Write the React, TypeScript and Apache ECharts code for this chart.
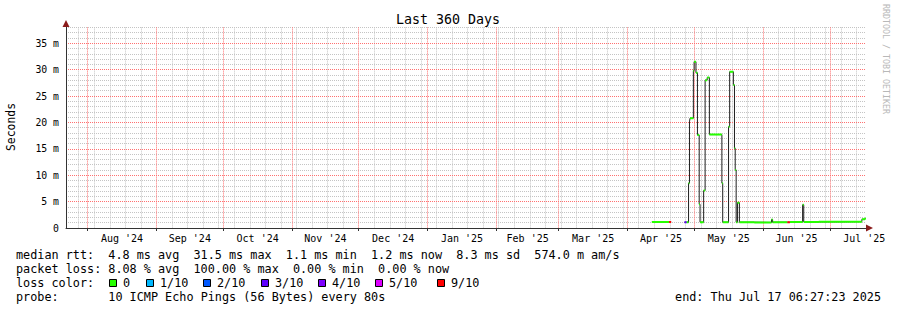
import React, { useEffect, useRef } from 'react';
import * as echarts from 'echarts';

const FONT = '"DejaVu Sans Mono", monospace';

// time range of the graph (360 days)
const rangeStart = '2024-07-22T06:27:23';
const rangeEnd = '2025-07-17T06:27:23';

// month grid lines / labels
const monthStarts = [
  '2024-08-01T00:00', '2024-09-01T00:00', '2024-10-01T00:00', '2024-11-01T00:00',
  '2024-12-01T00:00', '2025-01-01T00:00', '2025-02-01T00:00', '2025-03-01T00:00',
  '2025-04-01T00:00', '2025-05-01T00:00', '2025-06-01T00:00', '2025-07-01T00:00',
];
const monthLabelAt = [
  '2024-08-16T12:00', '2024-09-16T00:00', '2024-10-16T12:00', '2024-11-16T00:00',
  '2024-12-16T12:00', '2025-01-16T12:00', '2025-02-15T00:00', '2025-03-16T12:00',
  '2025-04-16T00:00', '2025-05-16T12:00', '2025-06-16T00:00', '2025-07-16T12:00',
];
const monthLabels = [
  "Aug '24", "Sep '24", "Oct '24", "Nov '24", "Dec '24", "Jan '25",
  "Feb '25", "Mar '25", "Apr '25", "May '25", "Jun '25", "Jul '25",
];
const firstWeekLine = '2024-07-28T00:00';

// y axis: labelled major lines every 5 ms, minor lines every 1 ms
const yTickValues = [0, 5, 10, 15, 20, 25, 30, 35];
const yTickLabels = ['0', '5 m', '10 m', '15 m', '20 m', '25 m', '30 m', '35 m'];
const yMax = 38;

// median rtt samples: value holds from this time until the next sample; null = no data
const sampleTimes = [
  '2025-04-11T22:00', '2025-04-19T16:00', '2025-04-20T14:00',
  '2025-04-26T14:00', '2025-04-27T12:00', '2025-04-28T10:00', '2025-04-28T20:00',
  '2025-04-29T02:00', '2025-04-30T14:00', '2025-04-30T22:00', '2025-05-01T18:00',
  '2025-05-02T10:00', '2025-05-03T05:00', '2025-05-03T14:00', '2025-05-05T05:00',
  '2025-05-05T21:00', '2025-05-06T19:00', '2025-05-07T19:00', '2025-05-13T10:00',
  '2025-05-13T19:00', '2025-05-16T10:00', '2025-05-16T22:00', '2025-05-18T14:00',
  '2025-05-19T02:00', '2025-05-19T10:00', '2025-05-19T20:00', '2025-05-20T10:00',
  '2025-05-21T07:00', '2025-05-28T00:00', '2025-06-04T18:00', '2025-06-05T06:00',
  '2025-06-11T22:00', '2025-06-13T00:00', '2025-06-18T18:00', '2025-06-19T06:00',
  '2025-06-26T00:00', '2025-07-15T10:00', '2025-07-16T20:00', '2025-07-17T06:27',
];
const medianMs: (number | null)[] = [
  1.15, 1.15, null,
  1.1, 1.1, 8.5, 20.1,
  20.8, 29.8, 31.5, 29.4,
  17.6, 4.5, 1.1, 7.1,
  28.0, 28.5, 17.7, 8.5,
  1.1, 19.2, 29.6, 27.1,
  15.1, 11.0, 1.1, 4.8,
  1.1, 1.05, 1.6, 1.1,
  1.1, 1.15, 4.4, 1.15,
  1.2, 1.65, 1.8, null,
];
// lost pings out of 10 per sample
const lossCount = [
  0, 9, 0,
  3, 0, 0, 0,
  0, 0, 0, 0,
  0, 0, 0, 0,
  0, 0, 0, 0,
  0, 0, 0, 0,
  0, 0, 0, 0,
  0, 0, 0, 0,
  9, 0, 0, 0,
  0, 0, 0, 0,
];

// loss colour legend
const lossLegendLabels = ['0', '1/10', '2/10', '3/10', '4/10', '5/10', '9/10'];
const lossLegendColors = ['#26ff00', '#00b8ff', '#0059ff', '#5e00ff', '#7e00ff', '#dd00ff', '#ff0000'];
const lossLegendTextX = [123, 160, 217, 275, 332, 389, 451];

// statistics text
const rttStats = ['median rtt:', '4.8 ms avg', '31.5 ms max', '1.1 ms min', '1.2 ms now', '8.3 ms sd', '574.0 m am/s'];
const rttCols = [0, 13, 25, 38, 50, 62, 73];
const lossStats = ['packet loss:', '8.08 % avg', '100.00 % max', '0.00 % min', '0.00 % now'];
const lossCols = [0, 13, 25, 39, 51];
const probeText = ['probe:', '10 ICMP Echo Pings (56 Bytes) every 80s'];
const endText = 'end: Thu Jul 17 06:27:23 2025';

const toTs = (s: string) => new Date(s).getTime();

function lossBucket(n: number) {
  if (n <= 4) return n;
  if (n <= 8) return 5;
  return 6;
}

function buildOption() {
  const tMin = toTs(rangeStart);
  const tMax = toTs(rangeEnd);
  const ts = sampleTimes.map(toTs);

  // black median line (step shape, explicit corners)
  const blackData: any[] = [];
  for (let i = 0; i < ts.length - 1; i++) {
    const v = medianMs[i];
    if (v == null) {
      blackData.push([ts[i], null]);
      continue;
    }
    blackData.push([ts[i], v]);
    blackData.push([ts[i + 1], v]);
  }

  // coloured horizontal segments by loss
  const colourData: any[][] = lossLegendColors.map(() => []);
  for (let i = 0; i < ts.length - 1; i++) {
    const v = medianMs[i];
    if (v == null) continue;
    const b = lossBucket(lossCount[i]);
    colourData[b].push([ts[i], v], [ts[i + 1], v], [ts[i + 1], null]);
  }

  // grid positions (weekly lines skip the places of month lines)
  const monthTs = monthStarts.map(toTs);
  const labelTs = monthLabelAt.map(toTs);
  const weekLines: number[] = [];
  for (let t = toTs(firstWeekLine); t < tMax; t += 7 * 86400000) {
    if (!monthTs.some((m) => Math.abs(m - t) < 3 * 3600000)) weekLines.push(t);
  }

  const minorColor = '#c4c4c4';
  const majorColor = '#ff7070';

  const graphics: any[] = [];
  const textEl = (x: number, y: number, text: string, extra: any = {}) => ({
    type: 'text',
    x,
    y,
    silent: true,
    style: {
      text,
      fill: '#000',
      font: `11.8px ${FONT}`,
      textAlign: 'left',
      textVerticalAlign: 'middle',
      ...extra,
    },
  });
  const CW = 7.1;
  rttStats.forEach((s, i) => graphics.push(textEl(16 + rttCols[i] * CW, 254.5, s)));
  lossStats.forEach((s, i) => graphics.push(textEl(16 + lossCols[i] * CW, 268.5, s)));
  graphics.push(textEl(16, 282.5, 'loss color:'));
  lossLegendLabels.forEach((s, i) => {
    graphics.push({
      type: 'rect',
      silent: true,
      shape: { x: lossLegendTextX[i] - 14 + 0.5, y: 279.5, width: 7, height: 7 },
      style: { fill: lossLegendColors[i], stroke: '#000', lineWidth: 1 },
    });
    graphics.push(textEl(lossLegendTextX[i], 282.5, s));
  });
  graphics.push(textEl(16, 296.5, probeText[0]));
  graphics.push(textEl(16 + 13 * CW, 296.5, probeText[1]));
  graphics.push(textEl(881, 296.5, endText, { textAlign: 'right' }));

  // title and side texts
  graphics.push(textEl(448, 19, 'Last 360 Days', { textAlign: 'center', font: `13.3px ${FONT}` }));
  graphics.push({
    type: 'text',
    x: 11,
    y: 127,
    rotation: Math.PI / 2,
    silent: true,
    style: { text: 'Seconds', fill: '#000', font: `11.4px ${FONT}`, textAlign: 'center', textVerticalAlign: 'middle' },
  });
  graphics.push({
    type: 'text',
    x: 886,
    y: 59,
    rotation: -Math.PI / 2,
    silent: true,
    style: { text: 'RRDTOOL / TOBI OETIKER', fill: '#b8b8b8', font: `8.3px ${FONT}`, textAlign: 'center', textVerticalAlign: 'middle' },
  });
  // axis arrows
  graphics.push({
    type: 'polygon',
    silent: true,
    shape: { points: [[866, 224.5], [873, 228], [866, 231.5]] },
    style: { fill: '#8b1c1c' },
  });
  graphics.push({
    type: 'polygon',
    silent: true,
    shape: { points: [[62.5, 27], [66, 20], [69.5, 27]] },
    style: { fill: '#8b1c1c' },
  });

  const dotted = (color: any) => ({ show: true, lineStyle: { color, type: [1, 1], width: 1 } });

  const series: any[] = [
    {
      type: 'line',
      data: blackData,
      xAxisIndex: 0,
      yAxisIndex: 0,
      showSymbol: false,
      symbol: 'none',
      connectNulls: false,
      silent: true,
      z: 3,
      lineStyle: { color: '#1e1e1e', width: 1 },
    },
    ...colourData.map((d, i) => ({
      type: 'line',
      data: d,
      xAxisIndex: 0,
      yAxisIndex: 0,
      showSymbol: false,
      symbol: 'none',
      connectNulls: false,
      silent: true,
      z: 4,
      lineStyle: { color: lossLegendColors[i], width: 2 },
    })),
  ];

  return {
    animation: false,
    backgroundColor: '#ffffff',
    grid: { left: 66, right: 31, top: 27.4, bottom: 82, containLabel: false },
    xAxis: [
      {
        // main time axis: month ticks, month grid, month labels
        type: 'value',
        min: tMin,
        max: tMax,
        z: 1,
        axisLine: { show: true, lineStyle: { color: '#333', width: 1 } },
        axisTick: { show: true, customValues: monthTs, length: 3, lineStyle: { color: '#333' } },
        splitLine: dotted(majorColor),
        axisLabel: {
          customValues: labelTs,
          formatter: (v: number) => {
            const k = labelTs.indexOf(v);
            return k >= 0 ? monthLabels[k] : '';
          },
          color: '#000',
          fontFamily: FONT,
          fontSize: 10,
          margin: 5,
          hideOverlap: false,
          showMinLabel: true,
          showMaxLabel: true,
        },
      },
      {
        // weekly minor grid
        type: 'value',
        min: tMin,
        max: tMax,
        z: 0,
        position: 'bottom',
        axisLine: { show: false },
        axisTick: { show: false, customValues: weekLines },
        axisLabel: { show: false },
        splitLine: dotted(minorColor),
      },
    ],
    yAxis: [
      {
        // minor grid, every 1 ms (transparent where a major line goes)
        type: 'value',
        min: 0,
        max: yMax,
        interval: 1,
        z: 0,
        axisLine: { show: false },
        axisTick: { show: false },
        axisLabel: { show: false },
        splitLine: dotted(['rgba(0,0,0,0)', minorColor, minorColor, minorColor, minorColor]),
      },
      {
        // labelled major grid, every 5 ms
        type: 'value',
        min: 0,
        max: yMax,
        interval: 5,
        z: 1,
        position: 'left',
        offset: 0,
        axisLine: { show: true, lineStyle: { color: '#333', width: 1 } },
        axisTick: { show: false },
        axisLabel: {
          formatter: (v: number) => {
            const k = yTickValues.indexOf(v);
            return k >= 0 ? yTickLabels[k] : '';
          },
          showMaxLabel: false,
          color: '#000',
          fontFamily: FONT,
          fontSize: 9.8,
          margin: 7,
        },
        splitLine: { ...dotted(majorColor), showMaxLine: false },
      },
    ],
    graphic: graphics,
    series,
  };
}

export default function App() {
  const ref = useRef<HTMLDivElement>(null);
  useEffect(() => {
    const chart = echarts.init(ref.current!, null, { renderer: 'svg' });
    chart.setOption(buildOption() as any);
    return () => chart.dispose();
  }, []);
  return (
    <div
      ref={ref}
      style={{ position: 'fixed', left: 0, top: 0, width: 897, height: 310, background: '#fff' }}
    />
  );
}
